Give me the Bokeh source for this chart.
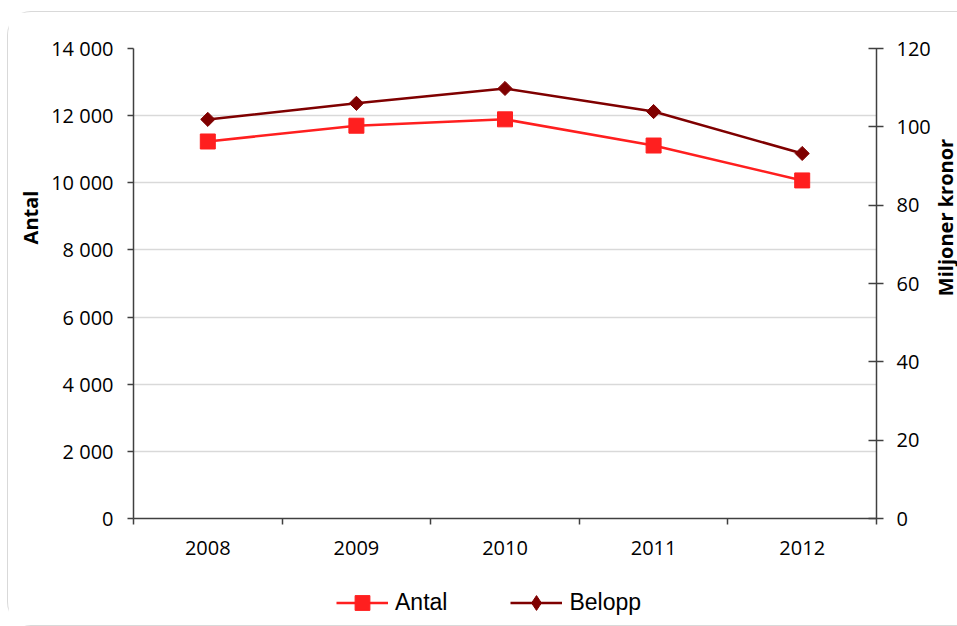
import numpy as np
from bokeh.plotting import figure
from bokeh.layouts import column, row
from bokeh.models import LinearAxis, Range1d, FixedTicker, Legend, LegendItem, ColumnDataSource, Label
from bokeh.embed import file_html
from bokeh.resources import INLINE

years = ["2008", "2009", "2010", "2011", "2012"]
antal = [11230, 11700, 11890, 11110, 10070]
belopp = [101.9, 106.0, 109.8, 103.9, 93.2]
left_ticks = [0, 2000, 4000, 6000, 8000, 10000, 12000, 14000]
left_labels = ["0", "2 000", "4 000", "6 000", "8 000", "10 000", "12 000", "14 000"]
right_ticks = [0, 20, 40, 60, 80, 100, 120]
left_title = "Antal"
right_title = "Miljoner kronor"

xpos = [i + 0.5 for i in range(len(years))]
src = ColumnDataSource(data=dict(x=xpos, antal=antal, belopp=belopp))

TICK_FONT = "Open Sans"
AXIS_COLOR = "#404040"
ANTAL_C = "#ff1f1f"
BELOPP_C = "#7f0000"
H = 560


def side_title(width, text, cx):
    f = figure(width=width, height=H, output_backend="svg", toolbar_location=None,
               x_range=Range1d(0, 1), y_range=Range1d(0, 1),
               x_axis_type=None, y_axis_type=None, min_border=0,
               background_fill_color="white", border_fill_color="white")
    f.outline_line_color = None
    f.grid.grid_line_color = None
    f.add_layout(Label(x=cx, y=301, x_units="screen", y_units="screen", text=text,
                       angle=np.pi / 2, text_align="center", text_baseline="middle",
                       text_font=TICK_FONT, text_font_style="bold",
                       text_font_size="20px", text_color="black"))
    return f


lf = side_title(40, left_title, 22)
rf = side_title(24, right_title, 12)

p = figure(width=885, height=H, output_backend="svg", toolbar_location=None,
           x_range=Range1d(0, len(years)), y_range=Range1d(0, 14000),
           min_border_left=84, min_border_right=55, min_border_top=36, min_border_bottom=54,
           background_fill_color="white", border_fill_color="white")
p.outline_line_color = None
p.extra_y_ranges = {"right": Range1d(0, 120)}

# grid
p.xgrid.grid_line_color = None
p.ygrid.grid_line_color = "#d9d9d9"
p.ygrid.grid_line_width = 1.5
p.ygrid.ticker = FixedTicker(ticks=left_ticks)

# x axis
xa = p.xaxis[0]
xa.ticker = FixedTicker(ticks=xpos, minor_ticks=list(range(len(years) + 1)))
xa.major_label_overrides = {x: y for x, y in zip(xpos, years)}
xa.major_tick_line_color = None
xa.minor_tick_line_color = AXIS_COLOR
xa.minor_tick_line_width = 1.5
xa.minor_tick_out = 6
xa.minor_tick_in = 0
xa.axis_line_color = AXIS_COLOR
xa.axis_line_width = 1.5
xa.major_label_text_font = TICK_FONT
xa.major_label_text_font_size = "20px"
xa.major_label_text_color = "black"
xa.major_label_standoff = 16

# left axis
ya = p.yaxis[0]
ya.ticker = FixedTicker(ticks=left_ticks)
ya.major_label_overrides = {t: l for t, l in zip(left_ticks, left_labels)}
ya.minor_tick_line_color = None
ya.major_tick_out = 6
ya.major_tick_in = 0
ya.major_tick_line_color = AXIS_COLOR
ya.major_tick_line_width = 1.5
ya.axis_line_color = AXIS_COLOR
ya.axis_line_width = 1.5
ya.major_label_text_font = TICK_FONT
ya.major_label_text_font_size = "20px"
ya.major_label_text_color = "black"
ya.major_label_standoff = 14

# right axis
ra = LinearAxis(y_range_name="right", ticker=FixedTicker(ticks=right_ticks))
ra.minor_tick_line_color = None
ra.major_tick_out = 7
ra.major_tick_in = 8
ra.major_tick_line_color = AXIS_COLOR
ra.major_tick_line_width = 1.5
ra.axis_line_color = AXIS_COLOR
ra.axis_line_width = 1.5
ra.major_label_text_font = TICK_FONT
ra.major_label_text_font_size = "20px"
ra.major_label_text_color = "black"
ra.major_label_standoff = 13
p.add_layout(ra, "right")

# series
p.line("x", "antal", source=src, line_color=ANTAL_C, line_width=2.5)
p.scatter("x", "antal", source=src, marker="square", size=15,
          fill_color=ANTAL_C, line_color=ANTAL_C)
p.line("x", "belopp", source=src, y_range_name="right", line_color=BELOPP_C, line_width=2.5)
p.scatter("x", "belopp", source=src, y_range_name="right", marker="square", size=10,
          angle=np.pi / 4, fill_color=BELOPP_C, line_color=BELOPP_C)

# legend strip (separate figure, its own glyphs are kept out of view)
q = figure(width=949, height=53, output_backend="svg", toolbar_location=None,
           x_range=Range1d(-10, -9), y_range=Range1d(-10, -9),
           x_axis_type=None, y_axis_type=None, min_border=0, min_border_left=124,
           background_fill_color="white", border_fill_color="white")
q.outline_line_color = None
q.grid.grid_line_color = None
ql1 = q.line("x", "antal", source=src, line_color=ANTAL_C, line_width=2.5)
qs1 = q.scatter("x", "antal", source=src, marker="square",
                fill_color=ANTAL_C, line_color=ANTAL_C)
ql2 = q.line("x", "belopp", source=src, line_color=BELOPP_C, line_width=2.5)
qs2 = q.scatter("x", "belopp", source=src, marker="diamond",
                fill_color=BELOPP_C, line_color=BELOPP_C)

legend = Legend(items=[LegendItem(label="Antal", renderers=[ql1, qs1]),
                       LegendItem(label="Belopp", renderers=[ql2, qs2])],
                orientation="horizontal", location=(204, 4),
                glyph_width=52, glyph_height=37, label_standoff=7, spacing=63,
                padding=0, margin=0, border_line_color=None, background_fill_alpha=0,
                label_text_font="Liberation Sans", label_text_font_size="23px",
                label_text_color="black")
q.add_layout(legend, "center")

layout = column(row(lf, p, rf, spacing=0), q, spacing=0,
                styles={"border": "1px solid #d9d9d9", "border-right": "none",
                        "border-top-left-radius": "24px", "border-bottom-left-radius": "24px",
                        "margin-left": "7px", "margin-top": "11px"})

open("out.html", "w").write(file_html(layout, INLINE))
